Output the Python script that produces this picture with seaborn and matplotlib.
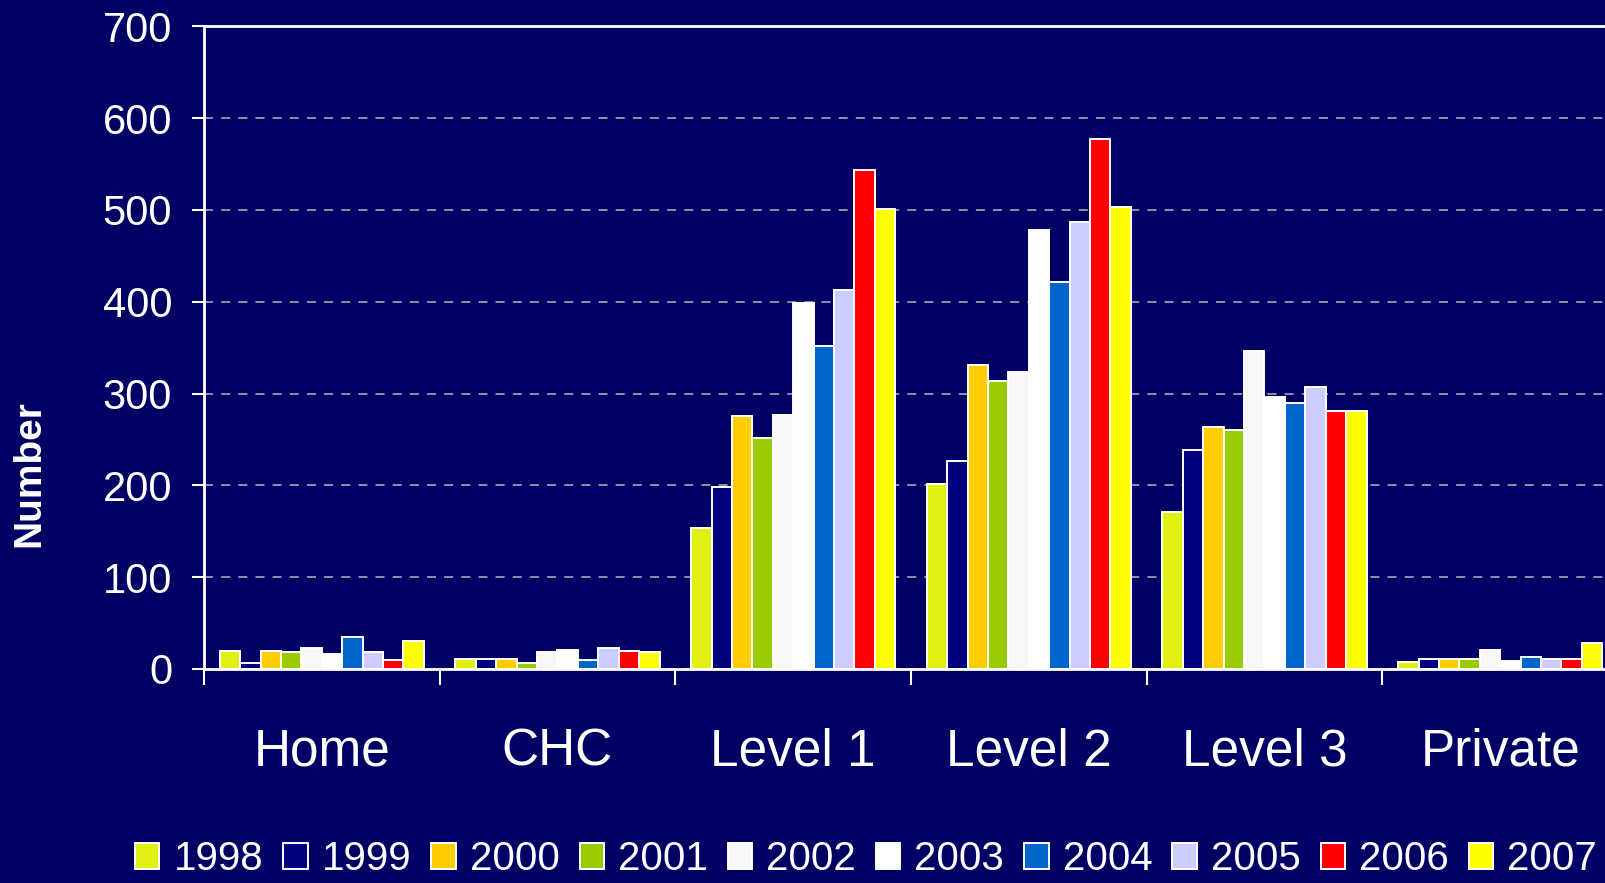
import numpy as np
import pandas as pd
import matplotlib
matplotlib.use("Agg")
import matplotlib.pyplot as plt
import seaborn as sns

categories = ["Home", "CHC", "Level 1", "Level 2", "Level 3", "Private"]
years = ["1998", "1999", "2000", "2001", "2002", "2003", "2004", "2005", "2006", "2007"]
v1998 = [20, 11, 154, 202, 171, 8]
v1999 = [6, 11, 198, 226, 238, 11]
v2000 = [20, 11, 276, 331, 264, 11]
v2001 = [18, 6, 252, 314, 260, 11]
v2002 = [23, 18, 277, 324, 346, 21]
v2003 = [16, 21, 399, 478, 296, 9]
v2004 = [35, 10, 352, 421, 290, 13]
v2005 = [18, 23, 413, 487, 307, 11]
v2006 = [10, 20, 544, 577, 281, 11]
v2007 = [30, 18, 501, 503, 281, 28]
yticks = [0, 100, 200, 300, 400, 500, 600, 700]

colors = ["#E0F010", "#000080", "#FFCC00", "#99CC00", "#F7F7F7",
          "#FFFFFF", "#0066CC", "#CCCCFF", "#FF0000", "#FFFF00"]

series = [v1998, v1999, v2000, v2001, v2002, v2003, v2004, v2005, v2006, v2007]
rows = []
for y, vals in zip(years, series):
    for c, v in zip(categories, vals):
        rows.append({"cat": c, "year": y, "val": v})
df = pd.DataFrame(rows)

bg = "#000064"
sns.set_theme(style="white")
plt.rcParams["font.family"] = ["Liberation Sans", "DejaVu Sans"]

fig = plt.figure(figsize=(16.06, 8.83), dpi=100, facecolor=bg)
ax = fig.add_axes([204 / 1606, 1 - 669 / 883, 1414 / 1606, (669 - 26.3) / 883])
ax.set_facecolor(bg)

sns.barplot(data=df, x="cat", y="val", hue="year", order=categories,
            hue_order=years, palette=colors, saturation=1, width=0.866, dodge=True,
            edgecolor="white", linewidth=1.4, ax=ax, legend=True, zorder=3)

ax.set_xlim(-0.5, 5.5)
ax.set_ylim(0, 700)
ax.set_yticks(yticks)
ax.set_yticklabels([str(t) for t in yticks])
ax.yaxis.grid(True, color="#9A9AB0", linestyle=(0, (5, 4.5)), linewidth=1.3, zorder=0)
ax.xaxis.grid(False)

for s in ["left", "bottom", "top"]:
    ax.spines[s].set_color("white")
    ax.spines[s].set_linewidth(2)
ax.spines["right"].set_visible(False)

ax.tick_params(axis="y", colors="white", labelsize=30, length=9, width=1.5,
               direction="out", pad=14, left=True)
ax.tick_params(axis="x", which="major", colors="white", labelsize=37, length=0, pad=42)
ax.set_xticks(np.arange(-0.5, 6.0, 1.0), minor=True)
ax.tick_params(axis="x", which="minor", colors="white", length=11.5, width=1.5,
               direction="out", bottom=True)
ax.set_xlabel("")
ax.set_ylabel("")

handles, labels = ax.get_legend_handles_labels()
ax.get_legend().remove()
leg = fig.legend(handles, labels, loc="center", bbox_to_anchor=(866 / 1606, 1 - 859 / 883),
                 ncol=10, frameon=False, fontsize=29, handlelength=0.6, handleheight=0.6,
                 handletextpad=0.35, columnspacing=0.5, borderaxespad=0, borderpad=0)
for t in leg.get_texts():
    t.set_color("white")
for h in leg.legend_handles:
    h.set_edgecolor("white")
    h.set_linewidth(1.4)

fig.text(29 / 1606, 1 - 474 / 883, "Number", rotation=90, color="white",
         fontsize=28, fontweight="bold", ha="center", va="center")

fig.savefig("out.png", dpi=100, facecolor=bg)
